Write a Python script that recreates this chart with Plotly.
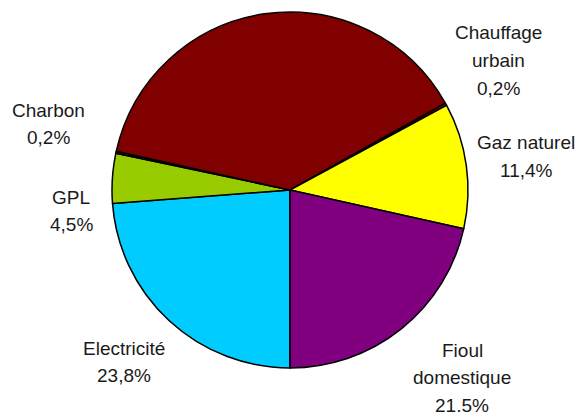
import plotly.graph_objects as go

# Energy shares (%) in clockwise order, starting from 6 o'clock
labels = ["Electricité", "GPL", "Charbon", "Bois", "Chauffage urbain", "Gaz naturel", "Fioul domestique"]
values = [23.8, 4.5, 0.2, 38.4, 0.2, 11.4, 21.5]
colors = ["#00CCFF", "#99CC00", "#262626", "#800000", "#FF0000", "#FFFF00", "#800080"]

# Text lines for each slice label (None = unlabeled slice)
label_lines = [
    ["Electricité"],
    ["GPL"],
    ["Charbon"],
    None,
    ["Chauffage", "urbain"],
    ["Gaz naturel"],
    ["Fioul", "domestique"],
]

# Label placement in pixels (x center, y of first line), per slice
label_pos = [(124, 348), (71, 197), (48, 110), None, (498, 33), (526, 143), (462, 350)]
LINE_GAP = 27.5

W, H = 577, 412
CX, CY, R = 290, 190, 178

fig = go.Figure(
    go.Pie(
        labels=labels,
        values=values,
        sort=False,
        direction="clockwise",
        rotation=180,
        marker=dict(colors=colors, line=dict(color="black", width=1.5)),
        textinfo="none",
        hoverinfo="label+percent",
        showlegend=False,
        domain=dict(x=[(CX - R) / W, (CX + R) / W], y=[(H - CY - R) / H, (H - CY + R) / H]),
    )
)

annotations = []
for lines, pos, val in zip(label_lines, label_pos, values):
    if lines is None:
        continue
    pct = f"{val:.1f}%".replace(".", ",")
    for i, txt in enumerate(lines + [pct]):
        px, py = pos[0], pos[1] + i * LINE_GAP
        annotations.append(
            dict(
                x=px / W,
                y=1 - py / H,
                xref="paper",
                yref="paper",
                text=txt,
                showarrow=False,
                xanchor="center",
                yanchor="middle",
                font=dict(family="Liberation Sans, Arial, sans-serif", size=19, color="#1a1a1a"),
            )
        )

fig.update_layout(
    width=W,
    height=H,
    margin=dict(l=0, r=0, t=0, b=0),
    paper_bgcolor="white",
    plot_bgcolor="white",
    annotations=annotations,
)

fig.write_html("out.html")
